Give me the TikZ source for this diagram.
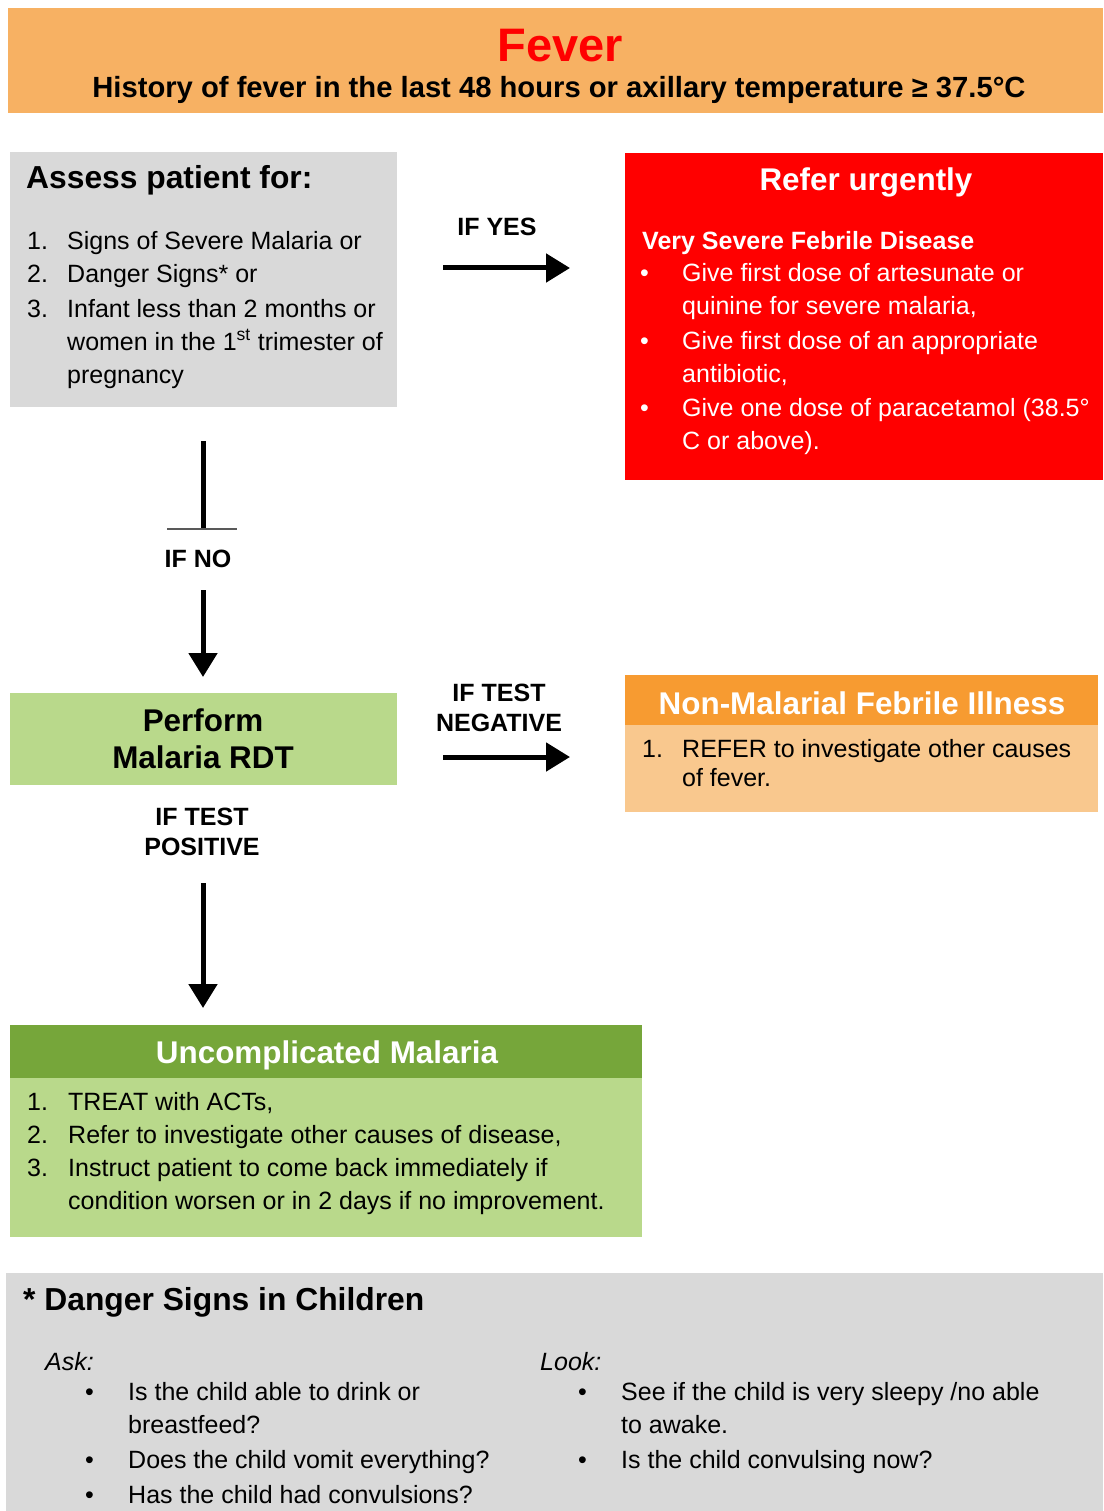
\documentclass[tikz,border=0pt]{standalone}
\usepackage{fontspec}
\setmainfont{Liberation Sans}
\usetikzlibrary{arrows.meta}
\definecolor{hdrorange}{HTML}{F7B163}
\definecolor{feverred}{HTML}{FF0000}
\definecolor{boxgray}{HTML}{D9D9D9}
\definecolor{urgred}{HTML}{FF0000}
\definecolor{lgreen}{HTML}{B9D98B}
\definecolor{dgreen}{HTML}{76A63A}
\definecolor{dorange}{HTML}{F79B31}
\definecolor{lorange}{HTML}{F9C88E}
\definecolor{thingray}{HTML}{595959}
\tikzset{
  panel/.style={draw=none, inner sep=0, outer sep=0, anchor=north west},
  bodytxt/.style={font=\fontsize{25}{30}\selectfont, anchor=base west, inner sep=0},
  headtxt/.style={font=\bfseries\fontsize{31.8}{36}\selectfont, anchor=base west, inner sep=0},
  headctr/.style={font=\bfseries\fontsize{31.4}{36}\selectfont, anchor=base, inner sep=0},
  lbltxt/.style={font=\bfseries\fontsize{25}{30}\selectfont, anchor=base, inner sep=0},
  bigarrow/.style={line width=5pt, -{Triangle[length=24pt, width=28pt]}},
}
\begin{document}
\begin{tikzpicture}[x=1pt, y=-1pt]
\useasboundingbox (0,0) rectangle (1103,1511);

% Header
\node[panel, fill=hdrorange, minimum width=1095pt, minimum height=105pt] (hdr) at (8,8) {};
\node[font=\bfseries\fontsize{47}{52}\selectfont, text=feverred, anchor=base, inner sep=0] (fever) at (560,62) {Fever};
\node[font=\bfseries\fontsize{29.2}{33}\selectfont, anchor=base, inner sep=0] (hist) at (559,98) {History of fever in the last 48 hours or axillary temperature ≥ 37.5°C};

% Assess box
\node[panel, fill=boxgray, minimum width=387pt, minimum height=255pt] (assess) at (10,152) {};
\node[headtxt] (assesst) at (26,189) {Assess patient for:};
\node[bodytxt] (an1) at (27,250) {1.};
\node[bodytxt] (a1) at (67,250) {Signs of Severe Malaria or};
\node[bodytxt] (an2) at (27,283) {2.};
\node[bodytxt] (a2) at (67,283) {Danger Signs* or};
\node[bodytxt] (an3) at (27,317) {3.};
\node[bodytxt] (a3) at (67,317) {Infant less than 2 months or};
\node[bodytxt] (a4) at (67,350) {women in the 1\textsuperscript{st} trimester of};
\node[bodytxt] (a5) at (67,383) {pregnancy};

% Refer urgently box
\node[panel, fill=urgred, minimum width=478pt, minimum height=327pt] (refer) at (625,153) {};
\node[headctr, text=white] (refert) at (866,191) {Refer urgently};
\node[bodytxt, font=\bfseries\fontsize{25}{30}\selectfont, text=white] (vsfd) at (642,250) {Very Severe Febrile Disease};
\node[bodytxt, text=white] (rb1) at (640,282) {\textbullet};
\node[bodytxt, text=white] (r1) at (682,282) {Give first dose of artesunate or};
\node[bodytxt, text=white] (r2) at (682,314) {quinine for severe malaria,};
\node[bodytxt, text=white] (rb2) at (640,349) {\textbullet};
\node[bodytxt, text=white] (r3) at (682,349) {Give first dose of an appropriate};
\node[bodytxt, text=white] (r4) at (682,382) {antibiotic,};
\node[bodytxt, text=white] (rb3) at (640,416) {\textbullet};
\node[bodytxt, text=white] (r5) at (682,416) {Give one dose of paracetamol (38.5°};
\node[bodytxt, text=white] (r6) at (682,449) {C or above).};

% IF YES arrow
\node[lbltxt] (ifyes) at (497,236) {IF YES};
\coordinate (yesA) at (443,268);
\coordinate (yesB) at (570,268);
\draw[bigarrow] (yesA) -- (yesB);

% IF NO connector
\coordinate (noA) at (203,441);
\coordinate (noB) at (203,529);
\coordinate (barL) at (167,529);
\coordinate (barR) at (237,529);
\draw[line width=5pt] (noA) -- (noB);
\draw[line width=1.2pt, thingray] (barL) -- (barR);
\node[lbltxt] (ifno) at (198,567) {IF NO};
\coordinate (noC) at (203,590);
\coordinate (noD) at (203,677);
\draw[bigarrow] (noC) -- (noD);

% Perform RDT box
\node[panel, fill=lgreen, minimum width=387pt, minimum height=92pt] (rdt) at (10,693) {};
\node[headctr] (rdt1) at (203,731) {Perform};
\node[headctr] (rdt2) at (203,768) {Malaria RDT};

% IF TEST NEGATIVE
\node[lbltxt] (neg1) at (499,701) {IF TEST};
\node[lbltxt] (neg2) at (499,731) {NEGATIVE};
\coordinate (negA) at (443,757);
\coordinate (negB) at (570,757);
\draw[bigarrow] (negA) -- (negB);

% Non-malarial box
\node[panel, fill=dorange, minimum width=473pt, minimum height=50pt] (nmh) at (625,675) {};
\node[panel, fill=lorange, minimum width=473pt, minimum height=87pt] (nmb) at (625,725) {};
\node[headctr, text=white] (nmt) at (862,714) {Non-Malarial Febrile Illness};
\node[bodytxt] (nn1) at (642,757) {1.};
\node[bodytxt] (n1) at (682,757) {REFER to investigate other causes};
\node[bodytxt] (n2) at (682,786) {of fever.};

% IF TEST POSITIVE
\node[lbltxt] (pos1) at (202,825) {IF TEST};
\node[lbltxt] (pos2) at (202,855) {POSITIVE};
\coordinate (posA) at (203,883);
\coordinate (posB) at (203,1008);
\draw[bigarrow] (posA) -- (posB);

% Uncomplicated malaria box
\node[panel, fill=dgreen, minimum width=632pt, minimum height=53pt] (umh) at (10,1025) {};
\node[panel, fill=lgreen, minimum width=632pt, minimum height=159pt] (umb) at (10,1078) {};
\node[headctr, text=white] (umt) at (327,1063) {Uncomplicated Malaria};
\node[bodytxt] (un1) at (27,1110) {1.};
\node[bodytxt] (u1) at (68,1110) {TREAT with ACTs,};
\node[bodytxt] (un2) at (27,1143) {2.};
\node[bodytxt] (u2) at (68,1143) {Refer to investigate other causes of disease,};
\node[bodytxt] (un3) at (27,1176) {3.};
\node[bodytxt] (u3) at (68,1176) {Instruct patient to come back immediately if};
\node[bodytxt] (u4) at (68,1209) {condition worsen or in 2 days if no improvement.};

% Danger signs box
\node[panel, fill=boxgray, minimum width=1097pt, minimum height=238pt] (danger) at (6,1273) {};
\node[headtxt] (dst) at (23,1310) {* Danger Signs in Children};
\node[bodytxt, font=\itshape\fontsize{25}{30}\selectfont] (ask) at (45,1370) {Ask:};
\node[bodytxt] (db1) at (85,1400) {\textbullet};
\node[bodytxt] (d1) at (128,1400) {Is the child able to drink or};
\node[bodytxt] (d2) at (128,1433) {breastfeed?};
\node[bodytxt] (db2) at (85,1468) {\textbullet};
\node[bodytxt] (d3) at (128,1468) {Does the child vomit everything?};
\node[bodytxt] (db3) at (85,1503) {\textbullet};
\node[bodytxt] (d4) at (128,1503) {Has the child had convulsions?};
\node[bodytxt, font=\itshape\fontsize{25}{30}\selectfont] (look) at (540,1370) {Look:};
\node[bodytxt] (lb1) at (578,1400) {\textbullet};
\node[bodytxt] (l1) at (621,1400) {See if the child is very sleepy /no able};
\node[bodytxt] (l2) at (621,1433) {to awake.};
\node[bodytxt] (lb2) at (578,1468) {\textbullet};
\node[bodytxt] (l3) at (621,1468) {Is the child convulsing now?};
\end{tikzpicture}
\end{document}
